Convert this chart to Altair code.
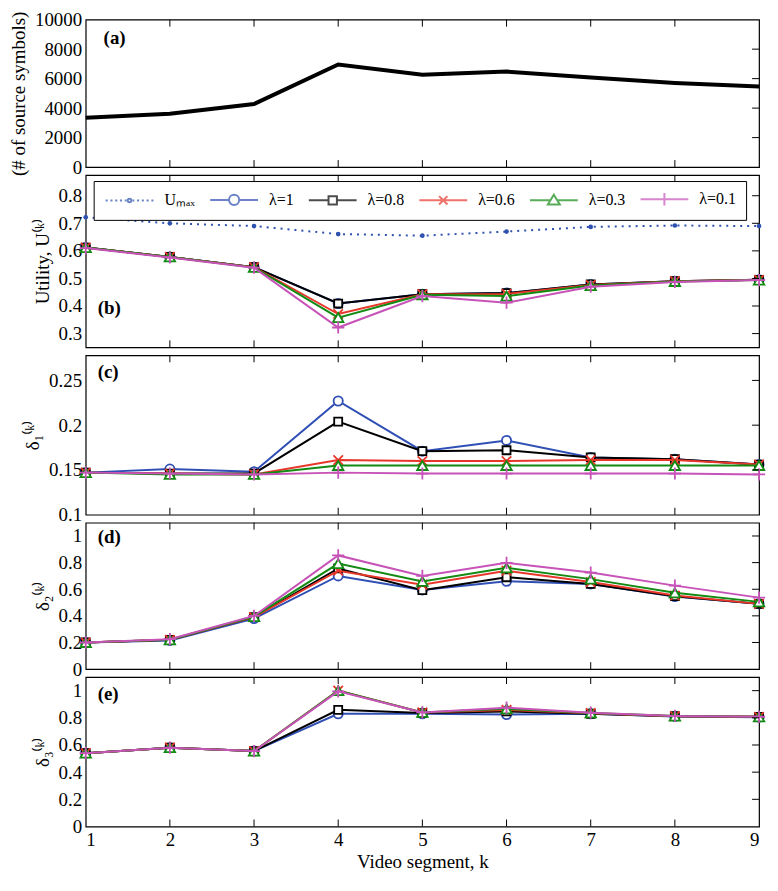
import altair as alt
import pandas as pd

# ---------------- data ----------------
K = [1, 2, 3, 4, 5, 6, 7, 8, 9]
SERIES = ["λ=1", "λ=0.8", "λ=0.6", "λ=0.3", "λ=0.1"]
UMAX_NAME = "Uₘₐₓ"

source_symbols = [3350, 3620, 4280, 6960, 6270, 6480, 6070, 5710, 5470]

utility_max = [0.722, 0.700, 0.690, 0.661, 0.655, 0.670, 0.687, 0.692, 0.690]
utility_l1 = [0.612, 0.578, 0.541, 0.409, 0.443, 0.447, 0.478, 0.490, 0.495]
utility_l08 = [0.612, 0.578, 0.541, 0.409, 0.443, 0.447, 0.478, 0.490, 0.495]
utility_l06 = [0.612, 0.578, 0.541, 0.371, 0.443, 0.444, 0.476, 0.490, 0.495]
utility_l03 = [0.612, 0.578, 0.540, 0.358, 0.441, 0.436, 0.474, 0.489, 0.494]
utility_l01 = [0.610, 0.576, 0.539, 0.322, 0.436, 0.412, 0.470, 0.487, 0.494]

delta1_l1 = [0.147, 0.151, 0.148, 0.227, 0.171, 0.183, 0.164, 0.162, 0.156]
delta1_l08 = [0.147, 0.146, 0.146, 0.204, 0.171, 0.172, 0.164, 0.162, 0.156]
delta1_l06 = [0.147, 0.146, 0.145, 0.161, 0.160, 0.160, 0.161, 0.161, 0.156]
delta1_l03 = [0.147, 0.145, 0.145, 0.155, 0.155, 0.155, 0.155, 0.155, 0.155]
delta1_l01 = [0.147, 0.146, 0.145, 0.147, 0.146, 0.146, 0.146, 0.146, 0.145]

delta2_l1 = [0.20, 0.215, 0.380, 0.700, 0.595, 0.660, 0.640, 0.545, 0.490]
delta2_l08 = [0.20, 0.220, 0.390, 0.756, 0.593, 0.690, 0.640, 0.548, 0.490]
delta2_l06 = [0.20, 0.220, 0.390, 0.739, 0.634, 0.739, 0.654, 0.553, 0.490]
delta2_l03 = [0.20, 0.220, 0.395, 0.793, 0.659, 0.761, 0.676, 0.573, 0.505]
delta2_l01 = [0.20, 0.225, 0.400, 0.854, 0.700, 0.798, 0.725, 0.627, 0.537]

delta3_l1 = [0.540, 0.580, 0.555, 0.830, 0.830, 0.824, 0.830, 0.810, 0.805]
delta3_l08 = [0.540, 0.580, 0.555, 0.859, 0.835, 0.847, 0.830, 0.812, 0.807]
delta3_l06 = [0.540, 0.580, 0.555, 1.000, 0.840, 0.858, 0.834, 0.812, 0.807]
delta3_l03 = [0.540, 0.580, 0.555, 1.000, 0.840, 0.866, 0.836, 0.813, 0.807]
delta3_l01 = [0.540, 0.580, 0.555, 0.995, 0.840, 0.875, 0.838, 0.814, 0.808]

# ---------------- style ----------------
FONT = "Times New Roman, Liberation Serif, serif"
W = 676
UMAX_COLOR = "#2f52b0"
COLORS = ["#2f4fb5", "#000000", "#e8372a", "#138a13", "#c753b8"]
SHAPES = ["circle", "square", "M-1,-1L1,1M-1,1L1,-1", "triangle-up", "M-1,0H1M0,-1V1"]
SIZES = [85, 64, 90, 110, 150]

# legend glyphs: a line from -1 to 7 (unit = 6 px) with the marker centred at 3
LEG_PATHS = [
    "M-1,0H-0.65M-0.2,0H0.15M0.6,0H0.95M1.4,0H1.75M2.2,0H2.5M3.5,0H3.8M4.25,0H4.6M5.05,0H5.4"
    "M5.85,0H6.2M6.65,0H7M2.7,0A0.3,0.3 0 1,1 3.3,0A0.3,0.3 0 1,1 2.7,0",
    "M-1,0H2.15M3.85,0H7M2.15,0A0.85,0.85 0 1,1 3.85,0A0.85,0.85 0 1,1 2.15,0",
    "M-1,0H2.3M3.7,0H7M2.3,-0.7H3.7V0.7H2.3Z",
    "M-1,0H7M2.3,-0.7L3.7,0.7M2.3,0.7L3.7,-0.7",
    "M-1,0H2.42M3.58,0H7M3,-0.95L4,0.7H2Z",
    "M-1,0H7M3,-1.05V1.05",
]


def long_df(series_lists):
    rows = []
    for name, vals in zip(SERIES, series_lists):
        for k, v in zip(K, vals):
            rows.append({"k": k, "v": v, "series": name})
    return pd.DataFrame(rows)


def make_panel(df, ydomain, yticks, ytitle, label, label_xy, height, bottom=False,
               single=None, umax=None, legend=False, yfmt="~g"):
    if bottom:
        xaxis = alt.Axis(values=K, ticks=False, domain=False, grid=False, format="d",
                         labelPadding=4, title="Video segment, k", titlePadding=3)
    else:
        xaxis = None
    X = alt.X("k:Q", scale=alt.Scale(domain=[1, 9], nice=False, zero=False), axis=xaxis)
    Y = alt.Y("v:Q", scale=alt.Scale(domain=ydomain, nice=False, zero=False),
              axis=alt.Axis(values=yticks, ticks=False, domain=False, grid=False, format=yfmt,
                            labelPadding=4, title=ytitle, titlePadding=6))
    layers = []
    if single is not None:
        layers.append(alt.Chart(single).mark_line(color="black", strokeWidth=4).encode(x=X, y=Y))
    if umax is not None:
        layers.append(alt.Chart(umax).mark_line(color=UMAX_COLOR, strokeWidth=2,
                                                strokeDash=[2, 5]).encode(x=X, y=Y))
        layers.append(alt.Chart(umax).mark_point(color=UMAX_COLOR, filled=True, size=22,
                                                 opacity=1).encode(x=X, y=Y))
    if df is not None:
        for name, col, shp, sz in zip(SERIES, COLORS, SHAPES, SIZES):
            sub = df[df["series"] == name]
            layers.append(alt.Chart(sub).mark_line(color=col, strokeWidth=2).encode(x=X, y=Y))
            layers.append(alt.Chart(sub).mark_point(shape=shp, size=sz, stroke=col, fill="white",
                                                    filled=True, strokeWidth=1.8,
                                                    opacity=1).encode(x=X, y=Y))
    # inward ticks
    xt = pd.DataFrame({"k": K[1:-1]})
    layers.append(alt.Chart(xt).mark_rule(color="black", strokeWidth=1).encode(
        x=X, y=alt.value(height), y2=alt.value(height - 7)))
    layers.append(alt.Chart(xt).mark_rule(color="black", strokeWidth=1).encode(
        x=X, y=alt.value(0), y2=alt.value(7)))
    yt = pd.DataFrame({"v": [t for t in yticks if ydomain[0] < t < ydomain[1]]})
    layers.append(alt.Chart(yt).mark_rule(color="black", strokeWidth=1).encode(
        y=Y, x=alt.value(W - 7), x2=alt.value(W)))
    # panel label
    layers.append(alt.Chart(pd.DataFrame({"t": [label]})).mark_text(
        font=FONT, fontSize=19, fontWeight="bold", align="left", baseline="middle",
        color="black").encode(text="t:N", x=alt.value(label_xy[0]), y=alt.value(label_xy[1])))
    if legend:
        empty = pd.DataFrame({"k": pd.Series([], dtype=float), "v": pd.Series([], dtype=float),
                              "series": pd.Series([], dtype=str)})
        leg = alt.Legend(title=None, orient="none", legendX=8, legendY=6, direction="horizontal",
                         columns=6, symbolSize=144, labelOffset=45, columnPadding=11,
                         symbolStrokeWidth=2, labelFont=FONT, labelFontSize=16,
                         labelColor="black", strokeColor="black", fillColor="white",
                         padding=10, symbolFillColor="white")
        dom = [UMAX_NAME] + SERIES
        layers.append(alt.Chart(empty).mark_point(filled=False, strokeWidth=2).encode(
            x=X, y=Y,
            color=alt.Color("series:N", scale=alt.Scale(domain=dom, range=[UMAX_COLOR] + COLORS),
                            legend=leg),
            shape=alt.Shape("series:N", scale=alt.Scale(domain=dom, range=LEG_PATHS), legend=leg),
        ))
    return alt.layer(*layers).properties(width=W, height=height)


pa = make_panel(None, [0, 10000], [0, 2000, 4000, 6000, 8000, 10000], "(# of source symbols)",
                "(a)", (18, 18), 148, yfmt="d",
                single=pd.DataFrame({"k": K, "v": source_symbols}))
pb = make_panel(long_df([utility_l1, utility_l08, utility_l06, utility_l03, utility_l01]),
                [0.25, 0.875], [0.3, 0.4, 0.5, 0.6, 0.7, 0.8], "Utility, U⁽ᵏ⁾",
                "(b)", (12, 133), 173,
                umax=pd.DataFrame({"k": K, "v": utility_max}), legend=True)
pc = make_panel(long_df([delta1_l1, delta1_l08, delta1_l06, delta1_l03, delta1_l01]),
                [0.1, 0.278], [0.1, 0.15, 0.2, 0.25], "δ₁⁽ᵏ⁾", "(c)", (12, 17), 160)
pd_ = make_panel(long_df([delta2_l1, delta2_l08, delta2_l06, delta2_l03, delta2_l01]),
                 [0, 1.1], [0, 0.2, 0.4, 0.6, 0.8, 1], "δ₂⁽ᵏ⁾", "(d)", (12, 14), 147)
pe = make_panel(long_df([delta3_l1, delta3_l08, delta3_l06, delta3_l03, delta3_l01]),
                [0, 1.1], [0, 0.2, 0.4, 0.6, 0.8, 1], "δ₃⁽ᵏ⁾", "(e)", (12, 17), 150, bottom=True)

chart = alt.vconcat(pa, pb, pc, pd_, pe, spacing=8, bounds="flush").resolve_scale(
    color="independent", shape="independent").resolve_legend(
    color="independent", shape="independent").properties(
    padding={"left": 0, "top": 0, "right": 0, "bottom": 0}).configure(
    font=FONT).configure_view(stroke="black", strokeWidth=1.2).configure_axis(
    labelFont=FONT, titleFont=FONT, labelFontSize=19, titleFontSize=19,
    titleFontWeight="normal", labelColor="black", titleColor="black")

chart.save("out.html", embed_options={"renderer": "svg", "actions": False})
